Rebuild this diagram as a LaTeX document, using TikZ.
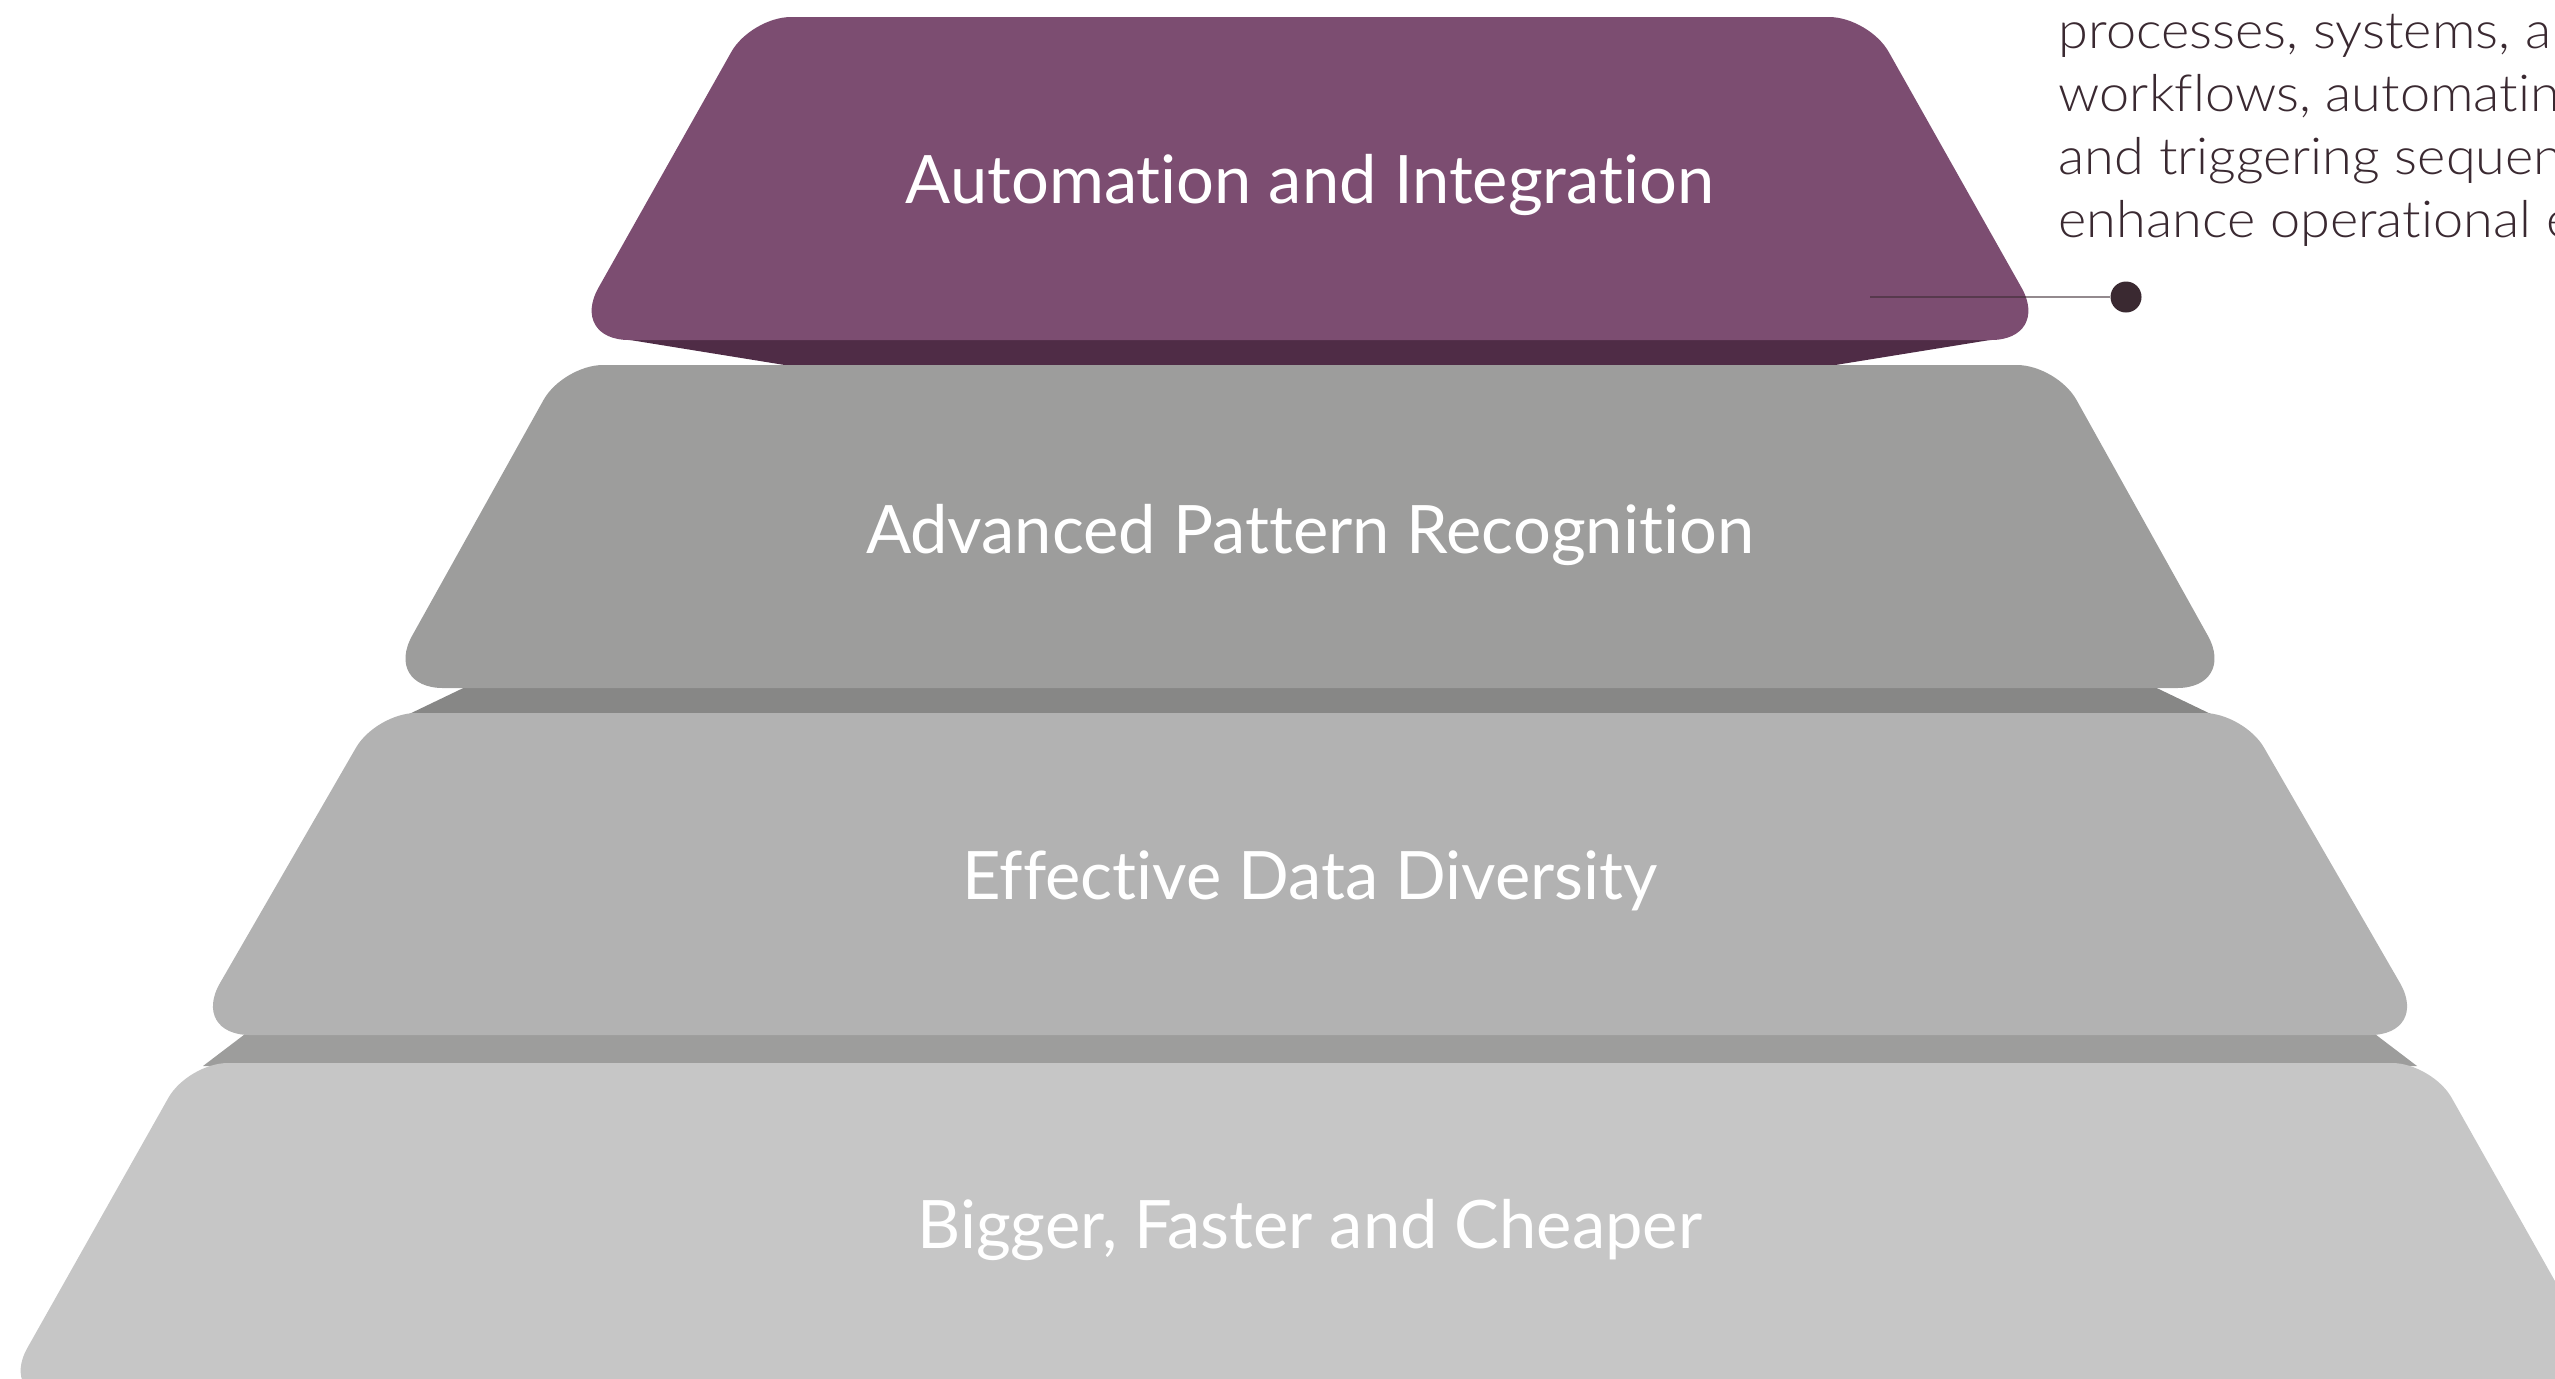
\documentclass[tikz,border=0pt]{standalone}
\usepackage{fontspec}
\setmainfont{Lato}[Ligatures={NoCommon}]
\newfontfamily\lightfont{Lato Light}[Ligatures={NoCommon}, FakeStretch=1.06]
\usepackage{tikz}
\definecolor{colorauto}{HTML}{7C4D71}
\definecolor{colorautob}{HTML}{4F2C46}
\definecolor{colorpat}{HTML}{9D9D9C}
\definecolor{colorpatb}{HTML}{878786}
\definecolor{colordiv}{HTML}{B2B2B2}
\definecolor{colordivb}{HTML}{9D9D9C}
\definecolor{colorbig}{HTML}{C6C6C6}
\definecolor{colorpin}{HTML}{3A2931}
\tikzset{
  level/.style={text=white, inner sep=0pt, anchor=base,
    font=\fontsize{19}{23}\selectfont},
  note/.style={text=colorpin, inner sep=0pt, align=left,
    font=\lightfont\fontsize{14.5}{17.9}\selectfont},
  pin/.style={circle, fill=colorpin, minimum size=0.31cm, inner sep=0pt},
  pinline/.style={colorpin, opacity=0.55, line width=0.6pt}
}
% one step of the pyramid: top y, bottom y, half width at top, at bottom
\newcommand\tier[5]{%
  \fill[#5] (1310,#1) [rounded corners=4mm] -- (1310-#3,#1)
    [rounded corners=6mm] -- (1310-#4,#2) -- (1310+#4,#2)
    [rounded corners=4mm] -- (1310+#3,#1) -- cycle;}

\begin{document}
\begin{tikzpicture}[x=0.01cm, y=-0.01cm]
\useasboundingbox (0,0) rectangle (2555,1378);
\clip (0,0) rectangle (2555,1378);

\fill[colorautob] (627,339.5) -- (1993,339.5) -- (1823,367) -- (797,367) -- cycle;
\fill[colorpatb] (480,680) -- (2140,680) -- (2215,716) -- (405,716) -- cycle;
\fill[colordivb] (253,1028) -- (2367,1028) -- (2417,1066) -- (203,1066) -- cycle;

\tier{17}{340}{559}{741}{colorauto}
\tier{365}{688}{747}{927}{colorpat}
\tier{713}{1035}{934}{1120}{colordiv}
\tier{1063}{1400}{1122}{1312}{colorbig}

\node[level] (auto) at (1310,203) {Automation and Integration};
\node[level] (pattern) at (1310,553) {Advanced Pattern Recognition};
\node[level] (diversity) at (1310,899) {Effective Data Diversity};
\node[level] (bigger) at (1310,1248) {Bigger, Faster and Cheaper};

\node[pin] (dot) at (2126,297) {};
\coordinate (dotstart) at (1870,297);
\draw[pinline] (dotstart) -- (dot);

\node[note, anchor=base west] (desc) at (2058,237)
{processes, systems, a\\workflows, automating\\and triggering sequenc\\enhance operational e};
\end{tikzpicture}
\end{document}
